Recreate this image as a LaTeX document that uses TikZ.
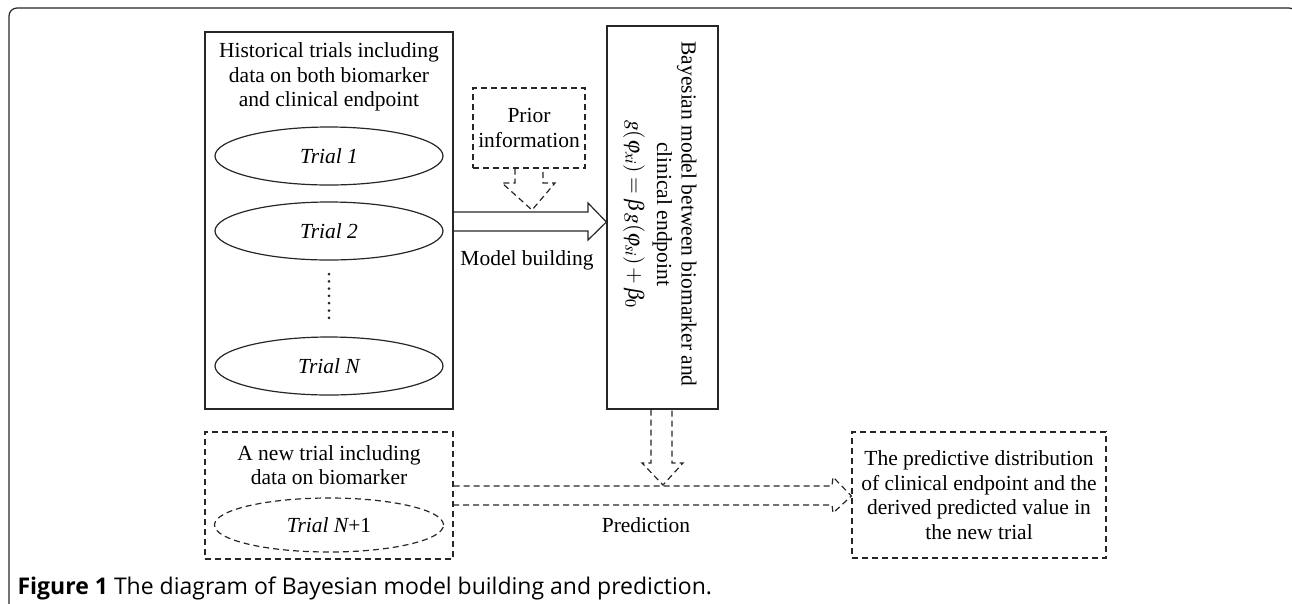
\documentclass[tikz,border=0pt]{standalone}
\usepackage{mathptmx}
\usepackage{fontspec}
\setmainfont{Liberation Serif}
\newfontfamily\capfont{Open Sans}
\usetikzlibrary{shapes.geometric}

\begin{document}
\begin{tikzpicture}
  [x=1pt,y=-1pt,line width=1.2pt,draw=black!85,
   every node/.style={font=\fontsize{21.5}{24.5}\selectfont,align=center,inner sep=0pt},
   box/.style={draw,minimum width=248pt},
   dashline/.style={dash pattern=on 6pt off 4pt},
   trial/.style={draw,ellipse,minimum width=228pt,minimum height=58pt,font=\fontsize{21.5}{24.5}\selectfont\itshape}]
  \useasboundingbox (0,0) rectangle (1292,603);

  % frame
  \draw[rounded corners=8pt] (9,610) |- (1297,8) -- (1297,610);

  % historical trials
  \node[box,minimum height=377pt] (hist) at (329,220.5) {};
  \node (histtxt) at (329,77) {Historical trials including\\data on both biomarker\\and clinical endpoint};
  \node[trial] (t1) at (329,156) {Trial 1};
  \node[trial] (t2) at (329,231) {Trial 2};
  \node[trial] (tN) at (329,366) {Trial N};
  \draw[line width=3pt,dash pattern=on 0pt off 7.3pt,line cap=round] (329,274) -- (329,318);

  % new trial
  \node[box,dashline,minimum height=127pt] (new) at (329,495.5) {};
  \node (newtxt) at (329,465) {A new trial including\\data on biomarker};
  \node[trial,dashline,minimum height=54pt,minimum width=229pt] (tN1) at (329,525) {Trial N\upshape+1};

  % prior
  \node[draw,dashline,minimum width=112pt,minimum height=80pt] (prior) at (529,128) {Prior\\information};

  % bayesian model
  \node[draw,minimum width=111pt,minimum height=383pt] (bayes) at (662.5,217.5) {};
  \node[rotate=-90] (bayestxt) at (660,214)
    {Bayesian model between biomarker and\\clinical endpoint\\[4pt]
     $g(\varphi_{xi})=\beta g(\varphi_{si})+\beta_0$};

  % prediction
  \node[draw,dashline,minimum width=254pt,minimum height=126pt] (pred) at (979,495)
    {The predictive distribution\\of clinical endpoint and the\\derived predicted value in\\the new trial};

  % arrows
  \draw (hist.east |- 0,212) -- (588,212) -- (588,203) -- (bayes.west |- 0,222)
    -- (588,240) -- (588,231) -- (hist.east |- 0,231);
  \draw[dashline] (515,0 |- prior.south) -- (515,183) -- (502,183) -- (532,210)
    -- (555,183) -- (543,183) -- (543,0 |- prior.south);
  \draw[dashline] (651,0 |- bayes.south) -- (651,463) -- (642,463) -- (663,485)
    -- (683,463) -- (672,463) -- (672,0 |- bayes.south);
  \draw[dashline] (new.east |- 0,486) -- (832,486) -- (833,477) -- (pred.west |- 0,496)
    -- (833,513) -- (832,505) -- (new.east |- 0,505);

  \node (build) at (527,260) {Model building};
  \node (predlbl) at (646,525) {Prediction};

  % caption
  \node[anchor=base west,font=\capfont\fontsize{23}{26}\selectfont] (cap) at (17,594)
    {\textbf{Figure 1} The diagram of Bayesian model building and prediction.};
\end{tikzpicture}
\end{document}
